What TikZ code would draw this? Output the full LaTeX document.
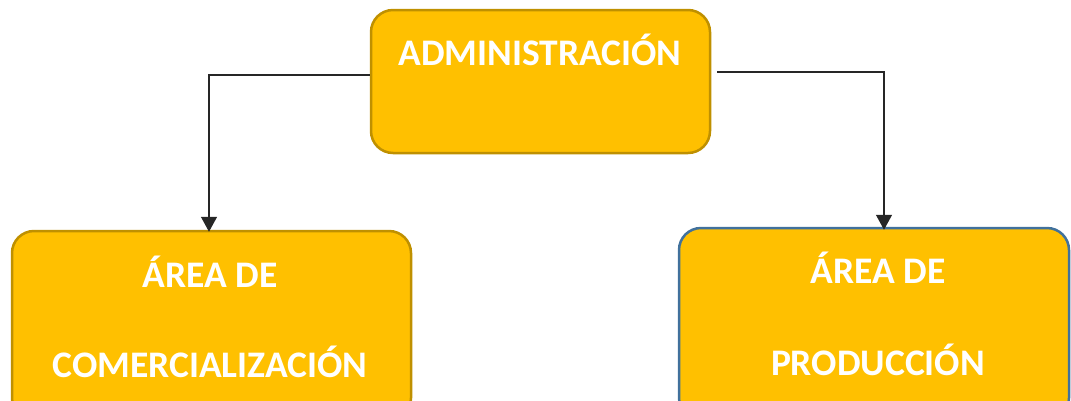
\documentclass[tikz,border=0pt]{standalone}
\usepackage{fontspec}
\setmainfont{Carlito}
\usetikzlibrary{arrows.meta}
\definecolor{boxfill}{HTML}{FFC000}
\definecolor{goldline}{HTML}{BF9000}
\definecolor{blueline}{HTML}{41719C}
\tikzset{
  orgbox/.style={draw=goldline, line width=2.5pt, fill=boxfill, rounded corners=22pt, inner sep=0pt},
  lbl/.style={text=white, font=\fontsize{37.5}{40}\selectfont\bfseries, anchor=base, inner sep=0pt},
  conn/.style={draw=black!85, line width=1.4pt, -{Triangle[width=16pt,length=15pt]}}
}
\begin{document}
\begin{tikzpicture}[x=1pt,y=-1pt]
\useasboundingbox (0,0) rectangle (1071,400);
\clip (0,0) rectangle (1071,400);
\node[orgbox, minimum width=339pt, minimum height=143pt] (adm) at (540.5,81.5) {};
\node[orgbox, minimum width=399pt, minimum height=189pt] (com) at (211.5,325.5) {};
\node[orgbox, draw=blueline, minimum width=390pt, minimum height=192pt] (pro) at (874,324) {};
\node[lbl] (tadm) at (540,65) {ADMINISTRACIÓN};
\node[lbl] (tcom1) at (210,287) {ÁREA DE};
\node[lbl] (tcom2) at (210,377) {COMERCIALIZACIÓN};
\node[lbl] (tpro1) at (878,283) {ÁREA DE};
\node[lbl] (tpro2) at (878,375) {PRODUCCIÓN};
\coordinate (ls) at (adm.west |- 0,75);
\coordinate (rs) at ([xshift=6pt]adm.east |- 0,72);
\draw[conn] (ls) -| ([yshift=-2pt]com.north -| 209,0);
\draw[conn] (rs) -| ([yshift=-3pt]pro.north -| 884,0);
\end{tikzpicture}
\end{document}
